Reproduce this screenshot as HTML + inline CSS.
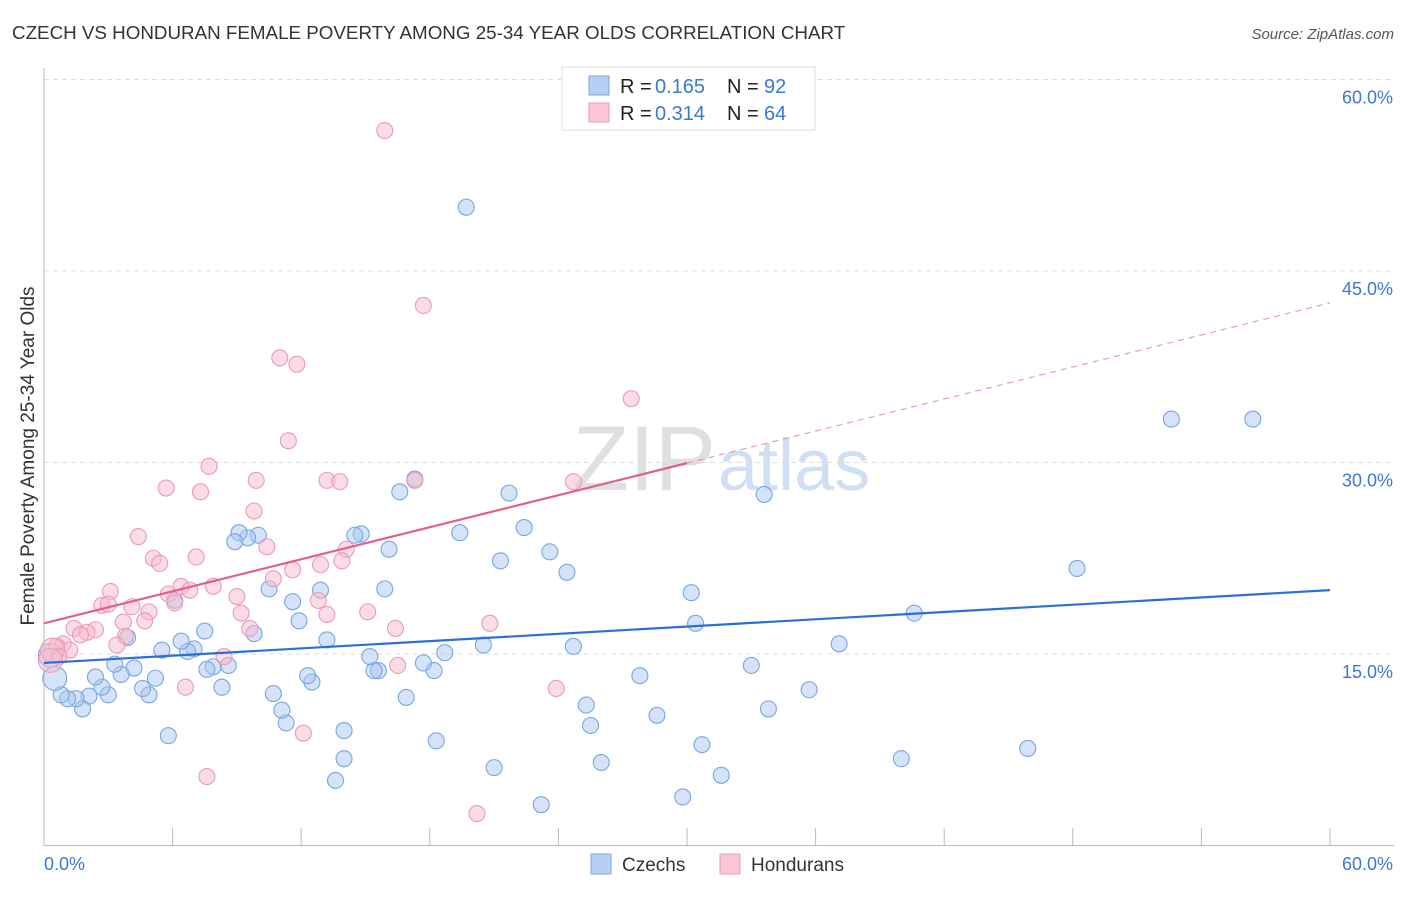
<!DOCTYPE html>
<html><head><meta charset="utf-8"><style>
body{margin:0;background:#fff;font-family:"Liberation Sans",sans-serif;}
svg text{font-family:"Liberation Sans",sans-serif;}
</style></head><body>
<svg id="c" width="1406" height="892" xmlns="http://www.w3.org/2000/svg">
<text x="12" y="39" font-size="18.8" fill="#333">CZECH VS HONDURAN FEMALE POVERTY AMONG 25-34 YEAR OLDS CORRELATION CHART</text>
<text x="1394" y="39" font-size="15" fill="#555" font-style="italic" text-anchor="end">Source: ZipAtlas.com</text>
<text x="716" y="490" font-size="92" fill="#e0e0e0" text-anchor="end" font-family="Liberation Serif">ZIP</text>
<text x="718" y="490" font-size="72" fill="#cfe0f4">atlas</text>
<text transform="translate(34,456) rotate(-90)" font-size="19" fill="#333" text-anchor="middle">Female Poverty Among 25-34 Year Olds</text>
<g id="grid"></g><g id="marks"></g>
<g>
<rect x="562" y="67" width="253" height="63" fill="#fff" stroke="#ddd"/>
<rect x="589" y="76" width="20" height="19" fill="#b6d0f3" stroke="#7aa5e3"/>
<rect x="589" y="103" width="20" height="19" fill="#fbc6d5" stroke="#ee9ab3"/>
<text x="620" y="93" font-size="20" fill="#222">R =</text><text x="655" y="93" font-size="20" fill="#3a78d8">0.165</text>
<text x="727" y="93" font-size="20" fill="#222">N =</text><text x="764" y="93" font-size="20" fill="#3a78d8">92</text>
<text x="620" y="120" font-size="20" fill="#222">R =</text><text x="655" y="120" font-size="20" fill="#3a78d8">0.314</text>
<text x="727" y="120" font-size="20" fill="#222">N =</text><text x="764" y="120" font-size="20" fill="#3a78d8">64</text>
</g>
<g>
<rect x="591" y="854" width="20" height="20" fill="#b6d0f3" stroke="#7aa5e3"/>
<text x="622" y="871" font-size="19" fill="#333">Czechs</text>
<rect x="720" y="854" width="20" height="20" fill="#fbc6d5" stroke="#ee9ab3"/>
<text x="751" y="871" font-size="19" fill="#333">Hondurans</text>
</g>
</svg>
<script>
const yTicks=[15,30,45,60];
const yTickLabels=["15.0%","30.0%","45.0%","60.0%"];
const xTickValues=[0,6,12,18,24,30,36,42,48,54,60];
const czechX=[19.7,52.6,56.4,48.2,40.6,33.6,37.1,35.7,33.8,33.0,30.2,30.4,31.6,30.7,29.8,28.6,27.8,40.0,45.9,26.0,25.5,25.3,24.7,23.6,24.4,22.4,21.7,21.3,20.5,21.0,23.2,19.4,18.3,18.7,18.2,17.7,16.9,17.3,16.6,16.1,15.9,15.6,15.4,15.2,14.8,14.5,14.0,14.0,13.6,13.2,12.9,12.5,12.3,11.9,11.6,11.3,11.1,10.7,10.5,10.0,9.8,9.5,9.1,8.9,8.6,8.3,7.9,7.6,7.5,7.0,6.7,6.4,6.1,5.5,5.8,5.2,4.9,4.6,4.2,3.9,3.6,3.3,3.0,2.7,2.4,2.1,1.8,1.5,1.1,0.8,0.5,0.3];
const czechY=[50.0,33.4,33.4,21.7,18.2,27.5,15.8,12.2,10.7,14.1,19.8,17.4,5.5,7.9,3.8,10.2,13.3,6.8,7.6,6.5,9.4,11.0,15.6,23.0,21.4,24.9,27.6,22.3,15.7,6.1,3.2,24.5,8.2,15.1,13.7,14.3,11.6,28.7,27.7,23.2,20.1,13.7,13.7,14.8,24.4,24.3,9.0,6.8,5.1,16.1,20.0,12.8,13.3,17.6,19.1,9.6,10.6,11.9,20.1,24.3,16.6,24.1,24.5,23.8,14.1,12.4,14.0,13.8,16.8,15.4,15.2,16.0,19.2,15.3,8.6,13.1,11.8,12.3,13.9,16.3,13.4,14.2,11.8,12.4,13.2,11.7,10.7,11.5,11.5,11.8,13.1,14.9];
const hondX=[15.9,17.7,11.0,11.8,27.4,11.4,7.7,24.7,13.2,13.8,17.3,9.9,5.7,7.3,9.8,4.4,10.4,14.1,5.1,7.1,5.4,13.9,12.9,11.6,10.7,6.4,7.9,6.8,3.1,9.0,5.8,6.1,12.8,2.7,3.0,4.1,4.9,9.2,15.1,13.2,4.7,3.7,20.8,16.4,9.6,2.4,1.4,2.0,1.7,3.8,3.4,0.9,0.6,1.2,0.4,0.7,8.4,16.5,6.6,23.9,12.1,7.6,20.2,0.3];
const hondY=[56.0,42.3,38.2,37.7,35.0,31.7,29.7,28.5,28.6,28.5,28.6,28.6,28.0,27.7,26.2,24.2,23.4,23.2,22.5,22.6,22.1,22.3,22.0,21.6,20.9,20.3,20.3,20.0,19.9,19.5,19.7,19.0,19.2,18.8,18.9,18.7,18.3,18.2,18.3,18.1,17.6,17.5,17.4,17.0,17.0,16.9,17.0,16.7,16.5,16.4,15.7,15.8,15.6,15.3,15.3,14.8,14.8,14.1,12.4,12.3,8.8,5.4,2.5,14.5];
const czechLine=[14.3,20.0];
const hondLine=[17.4,42.5];
const NS="http://www.w3.org/2000/svg";
const X=v=>44+v*21.433, Y=v=>845.5-v*12.767;
function mk(t,a,p){const e=document.createElementNS(NS,t);for(const k in a)e.setAttribute(k,a[k]);p.appendChild(e);return e;}
const g=document.getElementById('grid'), m=document.getElementById('marks');
yTicks.forEach((t,i)=>{
 const l=mk('line',{x1:44,x2:1394,y1:Y(t),y2:Y(t),stroke:'#ddd','stroke-dasharray':'5,4'},g);
 
 
 const tx=mk('text',{x:1393,y:Y(t)+24,'font-size':18,fill:'#3a78d8','text-anchor':'end'},g);tx.textContent=yTickLabels[i];
 
 
});
const ax=mk('line',{x1:44,x2:1394,y1:845.5,y2:845.5,stroke:'#bbb'},g);


const ay=mk('line',{x1:44,x2:44,y1:68,y2:845.5,stroke:'#bbb'},g);


xTickValues.forEach(t=>{const l=mk('line',{x1:X(t),x2:X(t),y1:828,y2:845.5,stroke:'#bbb'},g);
 
 });
const x0=mk('text',{x:44,y:870,'font-size':18,fill:'#3a78d8'},g);x0.textContent='0.0%';


const x1=mk('text',{x:1393,y:870,'font-size':18,fill:'#3a78d8','text-anchor':'end'},g);x1.textContent='60.0%';


function pts(xs,ys,fill,stroke,name){xs.forEach((x,i)=>{const big=x<0.6;
 const c=mk('circle',{cx:X(x),cy:Y(ys[i]),r:big?12:8,fill:fill,'fill-opacity':0.5,stroke:stroke,'stroke-width':1.1},m);
 
 });}
pts(czechX,czechY,'#a9c8f0','#78a6e2','czech-point');
pts(hondX,hondY,'#f7b9cc','#eb9bb4','honduran-point');
const bl=mk('line',{x1:X(0),y1:Y(czechLine[0]),x2:X(60),y2:Y(czechLine[1]),stroke:'#2a6fd6','stroke-width':2.2},m);


const hv=x=>hondLine[0]+(hondLine[1]-hondLine[0])*x/60;
const pl=mk('line',{x1:X(0),y1:Y(hv(0)),x2:X(30),y2:Y(hv(30)),stroke:'#e0608a','stroke-width':2.2},m);


const pd=mk('line',{x1:X(30),y1:Y(hv(30)),x2:X(60),y2:Y(hv(60)),stroke:'#e88aa8','stroke-width':1,'stroke-dasharray':'6,5'},m);


</script>
</body></html>
